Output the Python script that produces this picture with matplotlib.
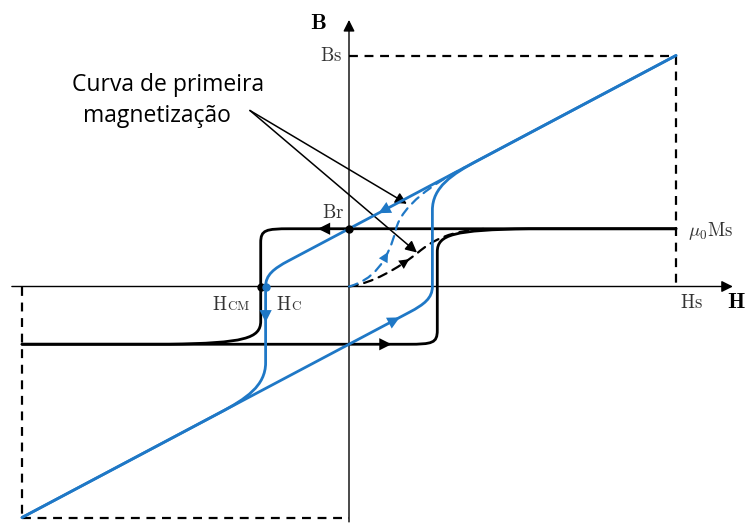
import numpy as np
import matplotlib.pyplot as plt
from matplotlib.path import Path
from matplotlib.patches import PathPatch

plt.rcParams['mathtext.fontset'] = 'cm'

# Normalised loop parameters (Hs = 1, Bs = 1)
Hs = 1.0
Bs = 1.0
mu0Ms = 0.25          # saturation polarisation
Br = 0.25             # remanence
Hcm = 0.27            # coercive field of the mu0*M loop
Hc = 0.255            # coercive field of the B loop
mu0 = (Bs - Br) / Hs  # slope of the saturated B branches

# First magnetisation curves, cubic Bezier control points (H, value)
first_M = [(0.0, 0.0), (0.070, 0.013), (0.150, 0.078), (0.211, 0.147),
           (0.254, 0.198), (0.309, 0.246), (0.431, mu0Ms)]
first_B = [(0.0, 0.0), (0.070, 0.026), (0.119, 0.103), (0.144, 0.250),
           (0.162, 0.349), (0.254, 0.444), (0.355, Br + mu0 * 0.355)]

BLUE = '#1f78c6'
M, L, C = Path.MOVETO, Path.LINETO, Path.CURVE4


def upper_line(h):
    return Br + mu0 * h


def lower_line(h):
    return -Br + mu0 * h


# descending branches; the ascending ones are their point reflection
m_desc = [(Hs, mu0Ms), (-Hcm + 0.09, mu0Ms),
          (-Hcm + 0.015, mu0Ms), (-Hcm, mu0Ms - 0.005), (-Hcm, mu0Ms - 0.06),
          (-Hcm, -0.15),
          (-Hcm, -0.225), (-Hcm - 0.05, -0.245), (-Hcm - 0.28, -mu0Ms),
          (-Hs, -mu0Ms)]
b_desc = [(Hs, Bs), (-Hc + 0.07, upper_line(-Hc + 0.07)),
          (-Hc + 0.025, upper_line(-Hc + 0.025)), (-Hc, 0.05), (-Hc, 0.0),
          (-Hc, -0.33),
          (-Hc, -0.43), (-Hc - 0.06, lower_line(-Hc - 0.06)),
          (-Hc - 0.14, lower_line(-Hc - 0.14)),
          (-Hs, -Bs)]
loop_codes = [M, L, C, C, C, L, C, C, C, L]
first_codes = [M, C, C, C, C, C, C]


def curve(ax, verts, codes, **kw):
    ax.add_patch(PathPatch(Path(verts, codes), fill=False, capstyle='round', **kw))


def flip(verts):
    return [(-h, -v) for h, v in verts]


def head(ax, tail, tip, color, size=22):
    ax.annotate('', xy=tip, xytext=tail,
                arrowprops=dict(arrowstyle='-|>', color=color, lw=0,
                                shrinkA=0, shrinkB=0, mutation_scale=size))


def bez(p, t):
    p = np.asarray(p)
    return ((1 - t) ** 3 * p[0] + 3 * (1 - t) ** 2 * t * p[1]
            + 3 * (1 - t) * t ** 2 * p[2] + t ** 3 * p[3])


fig = plt.figure(figsize=(7.5, 5.24), dpi=100)
ax = fig.add_axes([0, 0, 1, 1])
ax.set_xlim(-349 / 327, 401 / 327)
ax.set_ylim(-237.5 / 231, 286.5 / 231)
ax.axis('off')

# axes with arrows
ax.annotate('', xy=(1.174, 0), xytext=(-1.031, 0),
            arrowprops=dict(arrowstyle='-|>', color='black', lw=1.0,
                            shrinkA=0, shrinkB=0, mutation_scale=17))
ax.annotate('', xy=(0, 1.154), xytext=(0, -1.019),
            arrowprops=dict(arrowstyle='-|>', color='black', lw=1.0,
                            shrinkA=0, shrinkB=0, mutation_scale=17))

# saturation box
dash = dict(color='black', lw=1.6, ls=(0, (4, 3)))
ax.plot([0, Hs], [Bs, Bs], **dash)
ax.plot([Hs, Hs], [Bs, 0], **dash)
ax.plot([-Hs, -Hs], [0, -Bs], **dash)
ax.plot([-Hs, 0], [-Bs, -Bs], **dash)

# mu0*M loop
curve(ax, m_desc, loop_codes, color='black', lw=2.0, zorder=3)
curve(ax, flip(m_desc), loop_codes, color='black', lw=2.0, zorder=3)
# B loop
curve(ax, b_desc, loop_codes, color=BLUE, lw=2.0, zorder=4)
curve(ax, flip(b_desc), loop_codes, color=BLUE, lw=2.0, zorder=4)

# first magnetisation curves
curve(ax, first_M, first_codes, color='black', lw=1.6, ls=(0, (4, 3)), zorder=3)
curve(ax, first_B, first_codes, color=BLUE, lw=1.6, ls=(0, (4, 3)), zorder=4)

# direction arrows
head(ax, (-0.058, mu0Ms), (-0.095, mu0Ms), 'black')
head(ax, (0.089, -mu0Ms), (0.13, -mu0Ms), 'black')
head(ax, (0.13, upper_line(0.13)), (0.09, upper_line(0.09)), BLUE)
head(ax, (0.12, lower_line(0.12)), (0.155, lower_line(0.155)), BLUE)
head(ax, (-Hc, -0.10), (-Hc, -0.155), BLUE)
head(ax, bez(first_M[:4], 0.72), bez(first_M[:4], 0.86), 'black', 18)
head(ax, bez(first_B[:4], 0.58), bez(first_B[:4], 0.74), BLUE, 18)

# remanence and coercivity points
ax.plot([0], [Br], 'o', color='black', ms=5, zorder=6)
ax.plot([-Hcm], [0], 'o', color='black', ms=5, zorder=6)
ax.plot([-Hc], [0], 'o', color=BLUE, ms=5, zorder=6)

# labels
fs = 13.5
ax.text(-0.095, 1.116, r'$\mathbf{B}$', fontsize=16, ha='center', va='baseline')
ax.text(1.156, -0.091, r'$\mathbf{H}$', fontsize=16, ha='left', va='baseline')
ax.text(-0.02, Bs, r'$\mathrm{Bs}$', fontsize=fs, ha='right', va='center', color='#333333')
ax.text(-0.015, 0.297, r'$\mathrm{Br}$', fontsize=fs, ha='right', va='baseline', color='#333333')
ax.text(1.037, 0.22, r'$\mu_0\mathrm{Ms}$', fontsize=fs, ha='left', va='baseline', color='#333333')
ax.text(1.012, -0.091, r'$\mathrm{Hs}$', fontsize=fs, ha='left', va='baseline', color='#333333')
ax.text(-0.419, -0.103, r'$\mathrm{H}$', fontsize=fs, ha='left', va='baseline', color='#333333')
ax.annotate(r'$\mathrm{CM}$', xy=(-0.419, -0.103), xytext=(10.5, 0),
            textcoords='offset points', fontsize=9.5, va='baseline', color='#333333')
ax.text(-0.223, -0.103, r'$\mathrm{H}$', fontsize=fs, ha='left', va='baseline', color='#333333')
ax.annotate(r'$\mathrm{C}$', xy=(-0.223, -0.103), xytext=(10.5, 0),
            textcoords='offset points', fontsize=9.5, va='baseline', color='#333333')

# callout for the first magnetisation curves
ax.text(-0.847, 0.846, 'Curva de primeira', fontsize=16.5, family='Open Sans',
        ha='left', va='baseline')
ax.text(-0.813, 0.712, 'magnetização', fontsize=16.5, family='Open Sans',
        ha='left', va='baseline')
for tip in [(0.177, 0.358), (0.208, 0.147)]:
    ax.annotate('', xy=tip, xytext=(-0.303, 0.762),
                arrowprops=dict(arrowstyle='-|>', color='black', lw=1.1,
                                shrinkA=0, shrinkB=0, mutation_scale=17))

fig.savefig('out.png', dpi=100)
